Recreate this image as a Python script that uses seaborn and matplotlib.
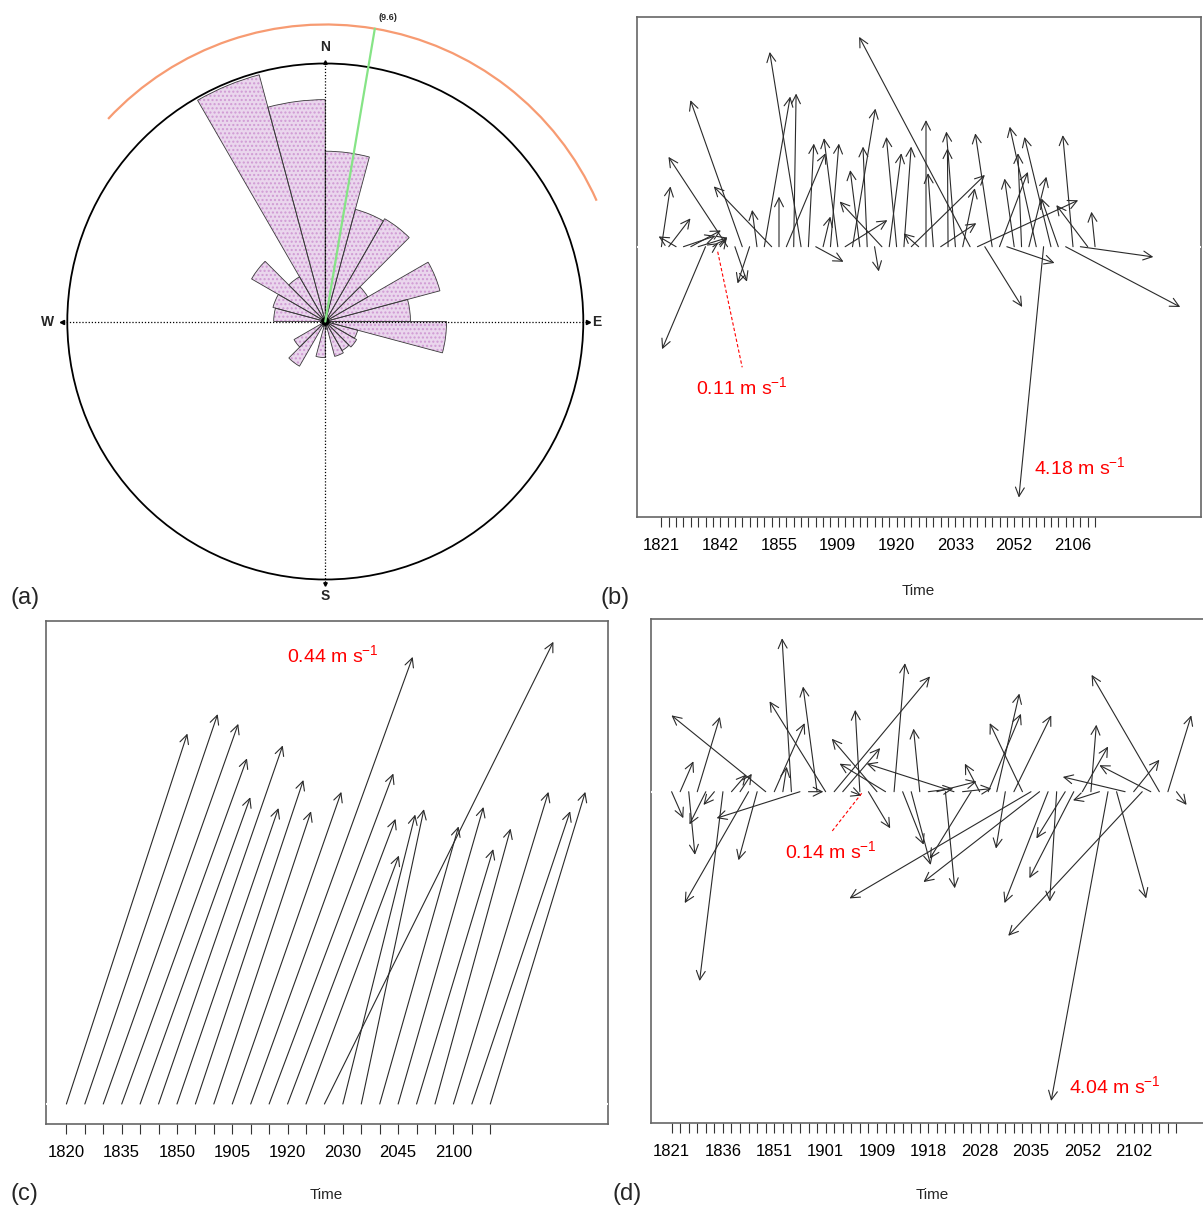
import numpy as np
import pandas as pd
import matplotlib
matplotlib.use("Agg")
import matplotlib.pyplot as plt
from matplotlib.patches import Wedge, Circle, Arc, FancyArrowPatch
import seaborn as sns

# ---------------- data ----------------
# (a) rose diagram: 15-degree sectors (bearing clockwise from north), length in % of outer circle
sector_start = list(range(0, 360, 15))
petal_len = [66, 45, 46, 19, 46, 33, 47, 13, 14, 13, 14, 3, 14, 2, 20, 14,
             0, 0, 20, 21, 33, 20, 99, 86]
mean_dir = 9.6
arc_from, arc_to = -47, 66

# (b) stick plot, u/v in m/s
time_b = ["1821", "1842", "1855", "1909", "1920", "2033", "2052", "2106"]
u_b = [0.15, 0.36, -0.29, 0.53, 0.50, 0.49, -0.72, 0.09, 0.11, -0.98,
       0.20, -0.86, -0.20, -0.08, 0.43, -0.96, 0.00, 0.65, 0.04, -0.52,
       0.09, 0.46, 0.12, 0.14, -0.23, 0.70, 0.38, -0.16, -0.07, 0.07,
       -0.70, 0.20, -0.17, 0.12, 1.22, -0.25, 0.00, -0.09, 0.59, -0.01,
       -0.15, 0.20, -1.84, 1.67, 0.62, -0.28, 0.47, 0.79, -0.16, -0.06,
       0.29, -0.44, -0.41, -0.44, -0.28, 1.90, -0.17, 1.21, -0.52, -0.06]
v_b = [1.00, 0.47, 0.17, 0.18, 0.27, 0.15, -1.70, 0.06, 0.14, 1.49,
       -0.58, 2.43, -0.61, 0.61, 2.49, 1.00, 0.83, 1.55, 2.54, 3.23,
       1.71, -0.25, 0.50, 1.71, 1.80, 0.44, 2.29, 1.27, 1.66, -0.41,
       0.75, 1.55, 1.82, 1.66, 1.19, 0.22, 2.10, 1.22, 0.39, 1.63,
       1.91, 0.97, 3.48, 0.77, -1.00, 1.88, 1.24, -0.27, 1.13, 1.55,
       1.16, 1.99, -4.16, 1.82, 0.80, -1.00, 1.85, -0.17, 0.69, 0.58]

# (c) stick plot, u/v in m/s
time_c = ["1820", "1835", "1850", "1905", "1920", "2030", "2045", "2100"]
u_c = [0.112, 0.123, 0.125, 0.116, 0.102, 0.115, 0.094, 0.100, 0.090, 0.101,
       0.150, 0.115, 0.100, 0.086, 0.212, 0.067, 0.058, 0.073, 0.079, 0.071,
       0.070, 0.088, 0.091, 0.088]
v_c = [0.343, 0.361, 0.352, 0.320, 0.284, 0.332, 0.274, 0.300, 0.271, 0.289,
       0.414, 0.306, 0.264, 0.230, 0.428, 0.268, 0.273, 0.257, 0.275, 0.236,
       0.255, 0.289, 0.271, 0.289]

# (d) stick plot, u/v in m/s
time_d = ["1821", "1836", "1851", "1901", "1909", "1918", "2028", "2035", "2052", "2102"]
u_d = [0.15, 0.17, 0.08, 0.29, -0.21, -0.14, -0.30, 0.19, 0.15, -0.82,
       -0.24, -1.21, 0.39, 0.05, -0.12, -1.07, 0.19, -0.18, -0.72, 1.23,
       0.48, 0.13, -0.06, 0.28, -0.58, -0.59, 0.14, 0.27, 0.25, -0.08,
       0.32, 0.51, 0.12, -1.12, 0.37, -0.53, -0.19, 0.42, 0.29, -0.12,
       0.48, -0.42, -2.33, -1.49, -0.56, -0.09, -0.37, -0.57, 0.33, 0.07,
       -0.34, -0.73, 0.38, -0.80, 0.33, -1.72, -0.66, -0.87, 0.30, 0.13]
v_d = [-0.34, 0.39, -0.81, 0.96, -0.42, -0.17, -2.43, 0.22, 0.23, -1.43,
       -0.88, 0.98, 0.88, 0.32, 1.97, -0.34, 0.00, 1.35, 1.16, 1.48,
       0.56, -0.05, 1.05, -0.47, 0.68, 0.36, 1.65, -0.68, -0.94, 0.81,
       0.04, 0.13, -1.24, 0.36, 0.04, -0.86, 0.36, 1.00, 1.26, -0.73,
       0.98, 0.88, -1.37, -1.16, -1.43, -1.41, -0.60, -1.11, 0.58, 0.86,
       -0.11, -3.97, -1.37, 0.19, 0.41, -1.85, 0.34, 1.50, 0.98, -0.17]

W, H = 1203, 1205
sns.set_theme(style="white")
plt.rcParams["font.family"] = ["Liberation Sans", "DejaVu Sans"]
plt.rcParams["mathtext.fontset"] = "custom"
plt.rcParams["mathtext.rm"] = "Liberation Sans"
plt.rcParams["mathtext.it"] = "Liberation Sans"
plt.rcParams["mathtext.default"] = "regular"

fig = plt.figure(figsize=(W / 100, H / 100), dpi=100)


def px_axes(x0, y0, x1, y1):
    return fig.add_axes([x0 / W, 1 - y1 / H, (x1 - x0) / W, (y1 - y0) / H])


# ---------------- (a) rose ----------------
ax = px_axes(0, 0, 620, 610)
ax.set_xlim(0, 620)
ax.set_ylim(610, 0)
ax.axis("off")
cx, cy, R = 325.3, 321.5, 258

for b, L in zip(sector_start, petal_len):
    if L <= 0:
        continue
    r = L / 100 * R
    ax.add_patch(Wedge((cx, cy), r, b - 90, b + 15 - 90, fc="#ead6ed", ec="none", zorder=2))
    ax.add_patch(Wedge((cx, cy), r, b - 90, b + 15 - 90, fc="none", ec="#d09ad4",
                       hatch="....", lw=0, zorder=2))
    ax.add_patch(Wedge((cx, cy), r, b - 90, b + 15 - 90, fc="none", ec="#3a3a3a",
                       lw=0.6, zorder=3))

ax.add_patch(Circle((cx, cy), R, fill=False, ec="black", lw=1.3, zorder=4))
ax.plot([cx, cx], [62, 585], color="black", lw=0.9, ls=(0, (1, 1.5)), zorder=5)
ax.plot([60, 590], [cy, cy], color="black", lw=0.9, ls=(0, (1, 1.5)), zorder=5)
ax.plot([62], [cy], marker="<", ms=3, color="black")
ax.plot([588], [cy], marker=">", ms=3, color="black")
ax.plot([cx], [62], marker="^", ms=2.5, color="black")
ax.plot([cx], [584], marker="v", ms=2.5, color="black")
ax.add_patch(Circle((cx, cy), 3.5, color="black", zorder=6))

R2 = 297
ax.add_patch(Arc((cx, cy), 2 * R2, 2 * R2, theta1=arc_from - 90, theta2=arc_to - 90,
                 color="#f79b72", lw=1.6, zorder=4))
rad = np.deg2rad(mean_dir)
ax.plot([cx, cx + R2 * np.sin(rad)], [cy, cy - R2 * np.cos(rad)],
        color="#86e486", lw=1.6, zorder=6)
ax.text(388, 18, f"({mean_dir})", fontsize=6.5, fontweight="bold", ha="center", va="center")

for lab, (x, y) in {"N": (cx, 47), "S": (cx, 596), "W": (48, cy), "E": (597, cy)}.items():
    ax.text(x, y, lab, fontsize=10, fontweight="bold", ha="center", va="center")


# ---------------- stick panels ----------------
def stick_panel(frame, tick0, spacing, baseline, ppm, u, v, labels, every):
    x0, y0, x1, y1 = frame
    a = px_axes(x0, y0, x1, y1)
    a.set_xlim(x0 - tick0, x1 - tick0)
    a.set_ylim(baseline - y1, baseline - y0)
    df = pd.DataFrame({"u": u, "v": v})
    df["x"] = np.arange(len(df)) * spacing
    a.axhline(0, color="white", lw=1.5, zorder=3)
    for _, row in df.iterrows():
        dx, dy = row.u * ppm, row.v * ppm
        if np.hypot(dx, dy) < 0.5:
            continue
        a.add_patch(FancyArrowPatch((row.x, 0), (row.x + dx, dy),
                                    arrowstyle="->,head_length=0.4,head_width=0.2",
                                    mutation_scale=16, lw=0.8, color="#2a2a2a",
                                    shrinkA=0, shrinkB=0, zorder=4))
    ticks = df["x"].values
    a.set_xticks(ticks)
    a.set_xticklabels([labels[i // every] if i % every == 0 else "" for i in range(len(df))])
    a.set_yticks([])
    a.tick_params(axis="x", direction="out", length=7, width=0.8, colors="#333333",
                  labelsize=12, pad=8, bottom=True)
    a.tick_params(axis="x", labelcolor="black")
    for s in a.spines.values():
        s.set_color("#666666")
        s.set_linewidth(1.2)
    return a


ppm_b, ppm_c, ppm_d = 60.3, 1080.0, 77.9
ax_b = stick_panel((637, 17, 1201, 517), 661.4, 7.35, 246.7, ppm_b, u_b, v_b, time_b, 8)
ax_c = stick_panel((46, 621, 608, 1124), 66.4, 18.43, 1104, ppm_c, u_c, v_c, time_c, 3)
ax_d = stick_panel((651, 619, 1212, 1123), 671.6, 8.557, 791.7, ppm_d, u_d, v_d, time_d, 6)

red = "#ff0000"
ax_b.plot([56.3, 80.8], [-5, -120.6], color=red, lw=0.8, ls=(0, (3, 2)), zorder=5)
ax_b.text(34.6, -140.3, "0.11 m s$^{-1}$", color=red, fontsize=14, va="center")
ax_b.text(372.6, -220, "4.18 m s$^{-1}$", color=red, fontsize=14, va="center")
ax_c.text(220.6, 449, "0.44 m s$^{-1}$", color=red, fontsize=14, va="center")
ax_d.plot([190.1, 160.1], [-1.6, -40], color=red, lw=0.8, ls=(0, (3, 2)), zorder=5)
ax_d.text(113.4, -59.3, "0.14 m s$^{-1}$", color=red, fontsize=14, va="center")
ax_d.text(397.4, -294.3, "4.04 m s$^{-1}$", color=red, fontsize=14, va="center")

# ---------------- overlay labels ----------------
ov = fig.add_axes([0, 0, 1, 1], facecolor="none")
ov.set_xlim(0, W)
ov.set_ylim(H, 0)
ov.axis("off")
for lab, x, y in [("(a)", 10, 598), ("(b)", 600, 598), ("(c)", 10, 1194), ("(d)", 612, 1194)]:
    ov.text(x, y, lab, fontsize=17, ha="left", va="center")
for x, y in [(918, 591), (326, 1195), (932, 1195)]:
    ov.text(x, y, "Time", fontsize=11, ha="center", va="center")

fig.savefig("out.png", dpi=100)
